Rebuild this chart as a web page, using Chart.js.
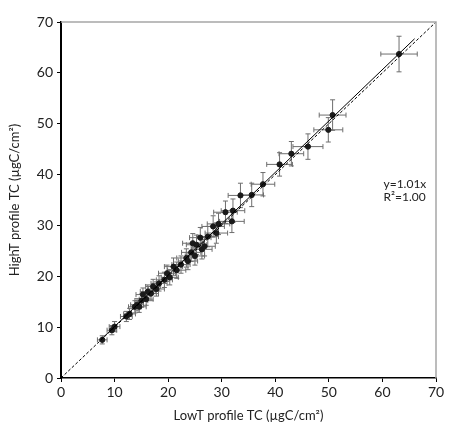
<!DOCTYPE html>
<html>
<head>
<meta charset="utf-8">
<script src="https://cdn.jsdelivr.net/npm/chart.js@4.4.1/dist/chart.umd.min.js"></script>
<style>
  body { margin: 0; background: #fff; }
  #wrap { width: 450px; height: 432px; position: relative; }
</style>
</head>
<body>
<div id="wrap"><canvas id="chart"></canvas></div>
<script>
// values (µgC/cm²)
const lowT = [7.7, 9.5, 10.0, 12.2, 12.8, 13.8, 14.2, 14.6, 15.0, 15.3, 15.9, 16.2, 16.8, 17.2, 17.8, 18.3,
  19.3, 19.8, 20.3, 21.0, 21.6, 22.4, 23.4, 23.7, 24.3, 24.6, 25.3, 25.0, 26.0, 26.3, 26.8, 27.4,
  28.4, 29.0, 29.4, 30.7, 31.9, 32.1, 33.5, 35.6, 37.7, 40.8, 43.0, 46.1, 49.9, 50.7, 63.1]
const highT = [7.5, 9.4, 10.1, 12.1, 12.6, 14.0, 14.4, 14.0, 15.2, 16.4, 15.5, 17.0, 16.6, 18.0, 17.5, 18.6,
  19.3, 20.6, 19.8, 21.9, 21.2, 22.3, 23.6, 23.0, 24.7, 26.5, 26.2, 24.0, 27.6, 25.3, 25.9, 27.8,
  29.8, 28.5, 30.3, 32.6, 30.8, 32.9, 35.9, 36.0, 38.1, 42.0, 44.1, 45.5, 48.8, 51.7, 63.7]
const lowTErr = [0.9, 0.9, 1.0, 1.1, 1.1, 1.2, 1.2, 1.3, 1.2, 1.3, 1.3, 1.4, 1.4, 1.4, 1.5, 1.5,
  1.5, 1.6, 1.6, 1.7, 1.7, 1.7, 1.8, 1.8, 1.8, 1.9, 1.9, 1.8, 2.0, 1.9, 2.0, 2.0,
  2.1, 2.1, 2.1, 2.2, 2.3, 2.2, 2.3, 2.2, 2.2, 2.4, 2.3, 2.8, 2.7, 2.5, 3.4]
const highTErr = [0.8, 0.9, 1.0, 1.0, 1.1, 1.2, 1.2, 1.1, 1.3, 1.3, 1.2, 1.3, 1.4, 1.4, 1.4, 1.5,
  1.5, 1.6, 1.5, 1.7, 1.6, 1.7, 1.8, 1.7, 1.8, 1.9, 1.9, 1.8, 2.0, 1.9, 1.9, 2.0,
  2.1, 2.0, 2.1, 2.2, 2.2, 2.3, 2.4, 2.3, 2.3, 2.3, 2.4, 2.5, 2.4, 3.0, 3.5]

const oneToOneX = [0, 70]
const oneToOneY = [0, 70]
const fitX = [7.5, 66]
const fitY = [7.6, 66.7]

const xTicks = [0, 10, 20, 30, 40, 50, 60, 70]
const yTicks = [0, 10, 20, 30, 40, 50, 60, 70]

const eqLines = ['y=1.01x', 'R²=1.00']
const eqPos = [60.2, 38.2]

const FONT = "Lato, 'Open Sans', sans-serif"

const pts = lowT.map((x, i) => ({ x: x, y: highT[i] }))

// error bars + frame + equation text
const extras = {
  id: 'extras',
  beforeDatasetsDraw(chart) {
    const ctx = chart.ctx
    const xs = chart.scales.x
    const ys = chart.scales.y
    ctx.save()
    ctx.strokeStyle = '#6e6e6e'
    ctx.lineWidth = 1
    const cap = 2.5
    for (let i = 0; i < lowT.length; i++) {
      const px = xs.getPixelForValue(lowT[i])
      const py = ys.getPixelForValue(highT[i])
      const x1 = xs.getPixelForValue(lowT[i] - lowTErr[i])
      const x2 = xs.getPixelForValue(lowT[i] + lowTErr[i])
      const y1 = ys.getPixelForValue(highT[i] - highTErr[i])
      const y2 = ys.getPixelForValue(highT[i] + highTErr[i])
      ctx.beginPath()
      ctx.moveTo(x1, py); ctx.lineTo(x2, py)
      ctx.moveTo(x1, py - cap); ctx.lineTo(x1, py + cap)
      ctx.moveTo(x2, py - cap); ctx.lineTo(x2, py + cap)
      ctx.moveTo(px, y1); ctx.lineTo(px, y2)
      ctx.moveTo(px - cap, y1); ctx.lineTo(px + cap, y1)
      ctx.moveTo(px - cap, y2); ctx.lineTo(px + cap, y2)
      ctx.stroke()
    }
    ctx.restore()
  },
  afterDraw(chart) {
    const ctx = chart.ctx
    const a = chart.chartArea
    ctx.save()
    ctx.strokeStyle = '#a6a6a6'
    ctx.lineWidth = 1.5
    ctx.beginPath()
    ctx.moveTo(a.left, a.top); ctx.lineTo(a.right, a.top); ctx.lineTo(a.right, a.bottom)
    ctx.stroke()
    ctx.fillStyle = '#222'
    ctx.font = '12px ' + FONT
    ctx.textAlign = 'left'
    ctx.textBaseline = 'middle'
    const tx = chart.scales.x.getPixelForValue(eqPos[0])
    const ty = chart.scales.y.getPixelForValue(eqPos[1])
    eqLines.forEach((t, i) => ctx.fillText(t, tx, ty + i * 13))
    ctx.restore()
  }
}

const config = {
  type: 'scatter',
  data: {
    datasets: [
      {
        type: 'line',
        data: oneToOneX.map((x, i) => ({ x: x, y: oneToOneY[i] })),
        borderColor: '#000',
        borderWidth: 1,
        borderDash: [3, 2],
        pointRadius: 0,
        fill: false
      },
      {
        type: 'line',
        data: fitX.map((x, i) => ({ x: x, y: fitY[i] })),
        borderColor: '#000',
        borderWidth: 1,
        pointRadius: 0,
        fill: false
      },
      {
        data: pts,
        backgroundColor: '#1a1a1a',
        borderColor: '#1a1a1a',
        pointRadius: 2.6,
        pointStyle: 'circle'
      }
    ]
  },
  options: {
    responsive: true,
    maintainAspectRatio: false,
    animation: false,
    layout: { padding: { top: 22, right: 14, left: 0, bottom: 0 } },
    plugins: {
      legend: { display: false },
      tooltip: { enabled: false }
    },
    scales: {
      x: {
        type: 'linear',
        min: 0,
        max: 70,
        afterBuildTicks: (s) => { s.ticks = xTicks.map(v => ({ value: v })) },
        afterFit: (s) => { s.height = 54 },
        border: { color: '#000', width: 1.5 },
        grid: { drawOnChartArea: false, drawTicks: true, tickLength: 4, color: '#000' },
        ticks: { color: '#222', font: { family: FONT, size: 14 }, padding: 2, maxRotation: 0 },
        title: {
          display: true,
          text: 'LowT profile TC (µgC/cm²)',
          color: '#222',
          font: { family: FONT, size: 13 },
          padding: { top: 0, bottom: 8 }
        }
      },
      y: {
        type: 'linear',
        min: 0,
        max: 70,
        afterBuildTicks: (s) => { s.ticks = yTicks.map(v => ({ value: v })) },
        afterFit: (s) => { s.width = 61 },
        border: { color: '#000', width: 2 },
        grid: { drawOnChartArea: false, drawTicks: true, tickLength: 4, color: '#000' },
        ticks: { color: '#222', font: { family: FONT, size: 14 }, padding: 4 },
        title: {
          display: true,
          text: 'HighT profile TC (µgC/cm²)',
          color: '#222',
          font: { family: FONT, size: 13 },
          padding: { top: 7, bottom: 0 }
        }
      }
    }
  },
  plugins: [extras]
}

const mychart = new Chart(document.getElementById('chart').getContext('2d'), config)
</script>
</body>
</html>
